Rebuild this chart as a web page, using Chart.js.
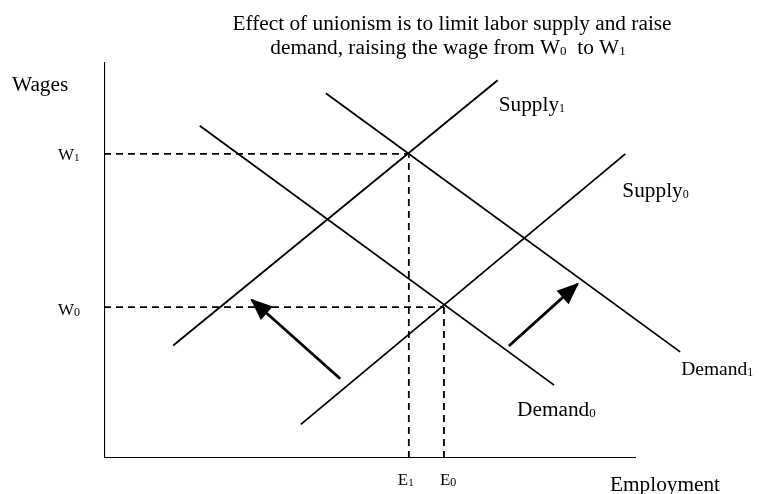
<!DOCTYPE html>
<html>
<head>
<meta charset="utf-8">
<script src="https://cdn.jsdelivr.net/npm/chart.js@4.4.1/dist/chart.umd.min.js"></script>
<style>
  body { margin: 0; background: #fff; }
  canvas { display: block; }
</style>
</head>
<body>
<canvas id="chart" width="759" height="494"></canvas>
<script>
// curve end points: [employment, wage] (0-100 scale)
const demand0 = [[18.0, 83.9], [84.6, 18.4]];
const demand1 = [[41.7, 92.1], [108.3, 26.8]];
const supply0 = [[37.0, 8.5], [98.0, 76.8]];
const supply1 = [[13.0, 28.4], [74.0, 95.4]];

// equilibrium levels
const wageLevels = [38.1, 76.8];   // W0, W1
const employLevels = [63.9, 57.3]; // E0, E1

// shift arrows: [start, tip]
const arrowSupply = [[44.4, 20.0], [27.8, 39.9]];
const arrowDemand = [[76.1, 28.3], [89.0, 43.9]];

const axisLen = [100, 100];

const titleLines = ["Effect of unionism is to limit labor supply and raise",
                    "demand, raising the wage from W"];

const serif = '"Liberation Serif", "Times New Roman", serif';
const big = 21.3;

function pts(arr) {
    return arr.map(p => ({ x: p[0], y: p[1] }));
}

function seg(data, width, dash) {
    return {
        data: pts(data),
        borderColor: "#000",
        borderWidth: width,
        borderDash: dash || [],
        pointRadius: 0,
        showLine: true,
        fill: false,
        tension: 0
    };
}

const dash = [7, 5];
const datasets = [
    seg([[0, 0], [0, axisLen[1]]], 2.2),
    seg([[0, 0], [axisLen[0], 0]], 2.2),
    seg(demand0, 1.8),
    seg(demand1, 1.8),
    seg(supply0, 1.8),
    seg(supply1, 1.8),
    seg([[0, wageLevels[1]], [employLevels[1], wageLevels[1]]], 1.8, dash),
    seg([[employLevels[1], 0], [employLevels[1], wageLevels[1]]], 1.8, dash),
    seg([[0, wageLevels[0]], [employLevels[0], wageLevels[0]]], 1.8, dash),
    seg([[employLevels[0], 0], [employLevels[0], wageLevels[0]]], 1.8, dash)
];
const a1 = seg(arrowSupply, 2.8); a1.arrow = true;
const a2 = seg(arrowDemand, 2.8); a2.arrow = true;
datasets.push(a1, a2);

// draw text with subscripts (odd parts are subscripts)
function subText(ctx, parts, x, y, size, subSize) {
    let cx = x;
    parts.forEach((p, i) => {
        const isSub = i % 2 === 1;
        ctx.font = (isSub ? subSize : size) + "px " + serif;
        ctx.fillText(p, cx, isSub ? y + 1 : y);
        cx += ctx.measureText(p).width;
    });
    return cx - x;
}

function measureParts(ctx, parts, size, subSize) {
    let w = 0;
    parts.forEach((p, i) => {
        ctx.font = (i % 2 === 1 ? subSize : size) + "px " + serif;
        w += ctx.measureText(p).width;
    });
    return w;
}

const labelsPlugin = {
    id: "labels",
    afterDatasetsDraw(chart) {
        const ctx = chart.ctx;
        const xs = chart.scales.x;
        const ys = chart.scales.y;

        // arrow heads
        chart.data.datasets.forEach((ds, i) => {
            if (!ds.arrow) return;
            const meta = chart.getDatasetMeta(i);
            const p0 = meta.data[0], p1 = meta.data[1];
            const ang = Math.atan2(p1.y - p0.y, p1.x - p0.x);
            const len = 20, half = 9;
            ctx.save();
            ctx.fillStyle = "#000";
            ctx.beginPath();
            ctx.moveTo(p1.x + 2 * Math.cos(ang), p1.y + 2 * Math.sin(ang));
            const bx = p1.x - len * Math.cos(ang), by = p1.y - len * Math.sin(ang);
            ctx.lineTo(bx + half * Math.sin(ang), by - half * Math.cos(ang));
            ctx.lineTo(bx - half * Math.sin(ang), by + half * Math.cos(ang));
            ctx.closePath();
            ctx.fill();
            ctx.restore();
        });

        ctx.save();
        ctx.fillStyle = "#000";
        ctx.textBaseline = "alphabetic";
        ctx.textAlign = "left";

        // title
        ctx.font = big + "px " + serif;
        const w1 = ctx.measureText(titleLines[0]).width;
        ctx.fillText(titleLines[0], 452 - w1 / 2, 30);
        const t2 = [titleLines[1], "0", "  to W", "1"];
        const w2 = measureParts(ctx, t2, big, 13);
        subText(ctx, t2, 448 - w2 / 2, 54, big, 13);

        // axis names
        ctx.font = big + "px " + serif;
        ctx.fillText("Wages", 12, 91);
        ctx.fillText("Employment", xs.getPixelForValue(axisLen[0]) - 26, 491);

        // levels
        subText(ctx, ["W", "1"], 58, ys.getPixelForValue(wageLevels[1]) + 6, 17, 11);
        subText(ctx, ["W", "0"], 58, ys.getPixelForValue(wageLevels[0]) + 8, 17, 12);
        subText(ctx, ["E", "1"], xs.getPixelForValue(employLevels[1]) - 11, 485, 17, 11);
        subText(ctx, ["E", "0"], xs.getPixelForValue(employLevels[0]) - 4, 485, 17, 12);

        // curve names
        subText(ctx, ["Supply", "1"], xs.getPixelForValue(supply1[1][0]) + 1, ys.getPixelForValue(supply1[1][1]) + 31, big, 12);
        subText(ctx, ["Supply", "0"], xs.getPixelForValue(supply0[1][0]) - 3, ys.getPixelForValue(supply0[1][1]) + 43, big, 12);
        subText(ctx, ["Demand", "1"], xs.getPixelForValue(demand1[1][0]) + 1, ys.getPixelForValue(demand1[1][1]) + 23, 19.5, 12);
        subText(ctx, ["Demand", "0"], xs.getPixelForValue(demand0[1][0]) - 37, ys.getPixelForValue(demand0[1][1]) + 31, big, 13);

        ctx.restore();
    }
};

new Chart(document.getElementById("chart"), {
    type: "scatter",
    data: { datasets: datasets },
    options: {
        responsive: false,
        animation: false,
        devicePixelRatio: 1,
        layout: { padding: { left: 104, top: 62, bottom: 36, right: 16.6 } },
        plugins: {
            legend: { display: false },
            tooltip: { enabled: false },
            title: { display: false }
        },
        scales: {
            x: { type: "linear", min: 0, max: 120, display: false },
            y: { type: "linear", min: 0, max: 100, display: false }
        }
    },
    plugins: [labelsPlugin]
});
</script>
</body>
</html>
